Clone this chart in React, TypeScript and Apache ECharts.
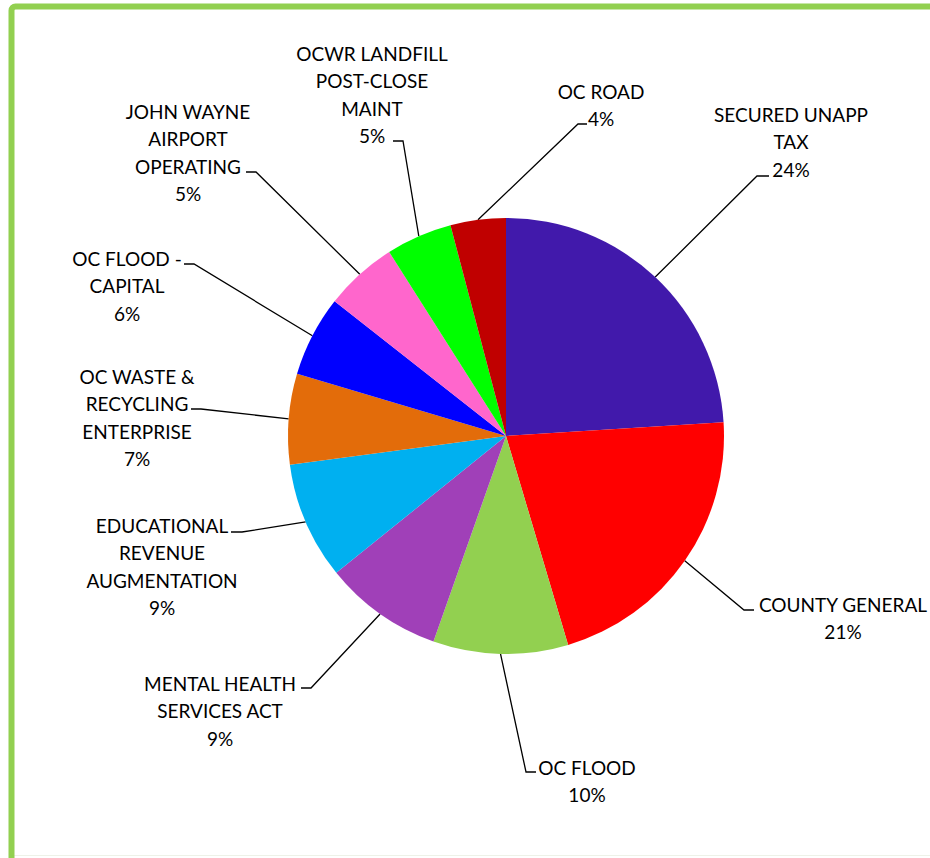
import React, { useEffect, useRef } from "react";
import * as echarts from "echarts";

const CATEGORIES = [
  "SECURED UNAPP\nTAX",
  "COUNTY GENERAL",
  "OC FLOOD",
  "MENTAL HEALTH\nSERVICES ACT",
  "EDUCATIONAL\nREVENUE\nAUGMENTATION",
  "OC WASTE &\nRECYCLING\nENTERPRISE",
  "OC FLOOD -\nCAPITAL",
  "JOHN WAYNE\nAIRPORT\nOPERATING",
  "OCWR LANDFILL\nPOST-CLOSE\nMAINT",
  "OC ROAD",
];

const VALUES = [24.0, 21.4, 10.0, 8.8, 8.7, 6.7, 6.0, 5.4, 4.9, 4.1];

const COLORS = [
  "#4119AB",
  "#FF0000",
  "#92D050",
  "#A040B8",
  "#00B0F0",
  "#E36C0A",
  "#0000FF",
  "#FF66CC",
  "#00FF00",
  "#C00000",
];

// label placement: text block centre x, first line centre y, leader elbow and end
const LABEL_LAYOUT = [
  { x: 791, y: 114, ex: 757, ey: 176, tx: 769 },
  { x: 843, y: 604, ex: 744, ey: 610, tx: 754 },
  { x: 587, y: 767, ex: 526, ey: 772, tx: 536 },
  { x: 220, y: 683, ex: 311, ey: 688, tx: 301 },
  { x: 162, y: 525, ex: 242, ey: 532, tx: 231 },
  { x: 137, y: 376, ex: 201, ey: 409, tx: 191 },
  { x: 127, y: 258, ex: 194, ey: 264, tx: 184 },
  { x: 188, y: 111, ex: 256, ey: 172, tx: 246 },
  { x: 372, y: 53, ex: 403, ey: 141, tx: 393 },
  { x: 601, y: 91, ex: 578, ey: 124, tx: 587 },
];

const LINE_H = 27.5;

export default function App() {
  const ref = useRef<HTMLDivElement>(null);
  useEffect(() => {
    if (!ref.current) return;
    const chart = echarts.init(ref.current, undefined, { renderer: "svg" });
    chart.setOption({
      animation: false,
      backgroundColor: "#ffffff",
      graphic: [
        {
          type: "rect",
          shape: { x: 11.5, y: 6.5, width: 1000, height: 1000, r: 4 },
          style: { fill: "none", stroke: "#92D050", lineWidth: 6 },
          z: 10,
        },
        {
          type: "line",
          shape: { x1: 14, y1: 855.5, x2: 930, y2: 855.5 },
          style: { stroke: "#eef2e8", lineWidth: 1 },
        },
      ],
      series: [
        {
          type: "pie",
          center: [506, 436],
          radius: 218,
          startAngle: 90,
          clockwise: true,
          avoidLabelOverlap: false,
          itemStyle: { borderWidth: 0 },
          emphasis: { disabled: true },
          data: CATEGORIES.map((name, i) => ({
            name,
            value: VALUES[i],
            itemStyle: { color: COLORS[i] },
          })),
          label: {
            show: true,
            position: "outside",
            formatter: (p: any) => `${p.name}\n${Math.round(p.percent)}%`,
            fontFamily: "Lato, 'Noto Sans', sans-serif",
            fontSize: 19,
            lineHeight: LINE_H,
            color: "#000000",
            align: "center",
          },
          labelLine: {
            show: true,
            length: 10,
            length2: 10,
            lineStyle: { color: "#000000", width: 1.3 },
          },
          labelLayout: (params: any) => {
            const L = LABEL_LAYOUT[params.dataIndex];
            const start = params.labelLinePoints
              ? params.labelLinePoints[0]
              : [L.ex, L.ey];
            return {
              x: L.x,
              y: L.y - LINE_H / 2,
              align: "center",
              verticalAlign: "top",
              labelLinePoints: [start, [L.ex, L.ey], [L.tx, L.ey]],
            };
          },
        },
      ],
    });
    return () => chart.dispose();
  }, []);
  return (
    <div
      ref={ref}
      style={{ position: "fixed", left: 0, top: 0, width: 930, height: 858 }}
    />
  );
}
